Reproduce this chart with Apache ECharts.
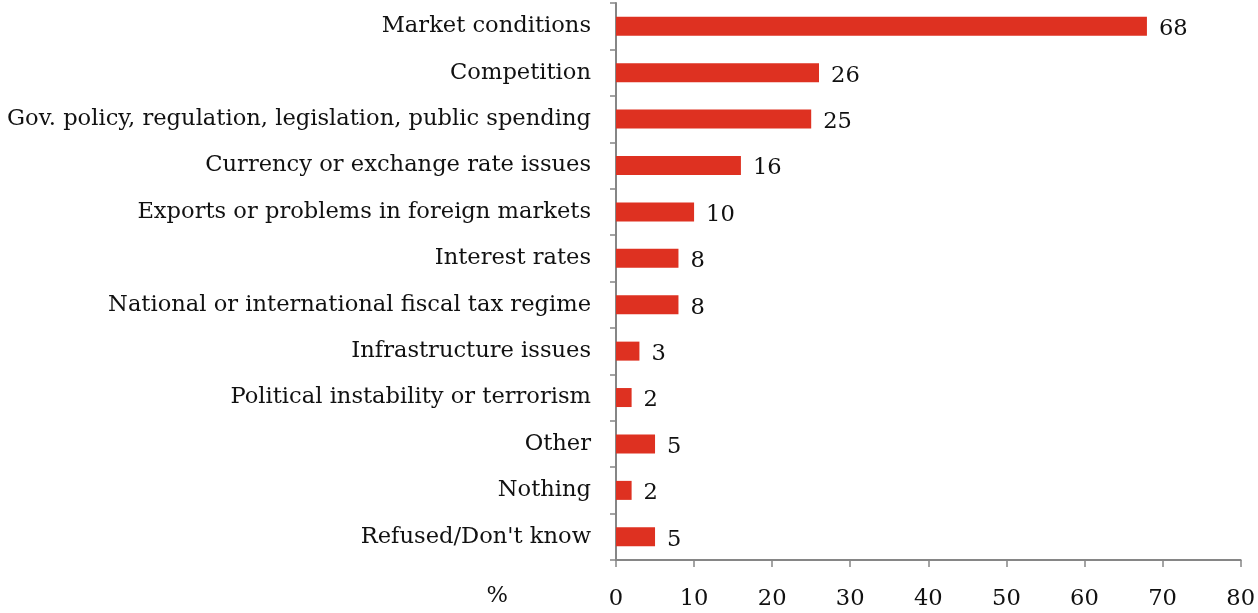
<!DOCTYPE html>
<html>
<head>
<meta charset="utf-8">
<script src="https://cdn.jsdelivr.net/npm/echarts@6/dist/echarts.min.js"></script>
<style>
  html, body { margin: 0; padding: 0; background: #fff; }
  #chart { width: 1258px; height: 613px; }
</style>
</head>
<body>
<div id="chart"></div>
<script>
// Reasons cited, share of respondents (%)
const categories = [
  "Market conditions",
  "Competition",
  "Gov. policy, regulation, legislation, public spending",
  "Currency or exchange rate issues",
  "Exports or problems in foreign markets",
  "Interest rates",
  "National or international fiscal tax regime",
  "Infrastructure issues",
  "Political instability or terrorism",
  "Other",
  "Nothing",
  "Refused/Don't know"
];
const values = [68, 26, 25, 16, 10, 8, 8, 3, 2, 5, 2, 5];
const xTicks = { min: 0, max: 80, interval: 10 };

const FONT = "'DejaVu Serif', serif";
const SIZE = 22.6;
const chart = echarts.init(document.getElementById('chart'), null, { renderer: 'canvas' });
chart.setOption({
  animation: false,
  backgroundColor: '#ffffff',
  grid: { left: 616, right: 13, top: 3, bottom: 53, containLabel: false },
  xAxis: {
    type: 'value',
    min: xTicks.min, max: xTicks.max, interval: xTicks.interval,
    name: '%',
    nameLocation: 'start',
    nameGap: 108,
    nameTextStyle: { fontFamily: FONT, fontSize: SIZE, color: '#111', verticalAlign: 'top', padding: [25, 0, 0, 0] },
    axisLine: { show: true, lineStyle: { color: '#868686', width: 2 } },
    axisTick: { show: true, length: 7, lineStyle: { color: '#868686', width: 1.5 } },
    axisLabel: { fontFamily: FONT, fontSize: SIZE, color: '#111', margin: 28 },
    splitLine: { show: false }
  },
  yAxis: {
    type: 'category',
    data: categories,
    inverse: true,
    axisLine: { show: true, lineStyle: { color: '#868686', width: 2 } },
    axisTick: { show: true, length: 6, lineStyle: { color: '#868686', width: 1.5 } },
    axisLabel: { fontFamily: FONT, fontSize: SIZE, color: '#111', margin: 25 }
  },
  series: [{
    type: 'bar',
    data: values,
    barWidth: 19,
    itemStyle: { color: '#DE3121' },
    label: {
      show: true, position: 'right', distance: 12,
      fontFamily: FONT, fontSize: SIZE, color: '#111', offset: [0, 3]
    }
  }]
});
</script>
</body>
</html>
